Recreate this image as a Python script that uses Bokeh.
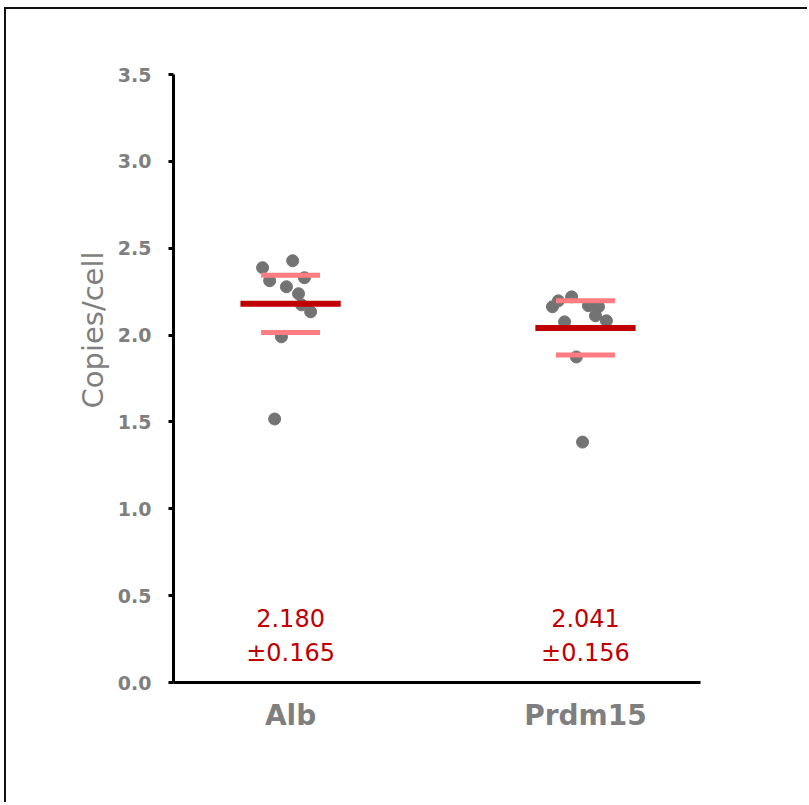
from bokeh.plotting import figure
from bokeh.models import Range1d, FixedTicker, Title
from bokeh.core.properties import value
from bokeh.embed import file_html
from bokeh.resources import INLINE

# ---- data ----
categories = ["Alb", "Prdm15"]
cat_x = [1, 2]
alb_values = [2.388, 2.428, 2.313, 2.330, 2.278, 2.238, 2.174, 2.134, 1.990, 1.517]
alb_jitter = [-0.095, 0.007, -0.071, 0.047, -0.014, 0.027, 0.037, 0.068, -0.031, -0.054]
prdm15_values = [2.163, 2.197, 2.220, 2.169, 2.163, 2.111, 2.082, 2.076, 1.874, 1.384]
prdm15_jitter = [-0.112, -0.092, -0.047, 0.010, 0.044, 0.034, 0.071, -0.071, -0.031, -0.010]
means = [2.180, 2.041]
sds = [0.165, 0.156]
mean_labels = ["2.180", "2.041"]
sd_labels = ["±0.165", "±0.156"]
y_ticks = [0.0, 0.5, 1.0, 1.5, 2.0, 2.5, 3.0, 3.5]
y_tick_labels = ["0.0", "0.5", "1.0", "1.5", "2.0", "2.5", "3.0", "3.5"]
y_title = "Copies/cell"

GRAY = "#7F7F7F"
DARKRED = "#C00000"
PINK = "#FF7C80"

p = figure(width=803, height=795, output_backend="svg", toolbar_location=None,
           x_range=Range1d(0.603, 2.39), y_range=Range1d(0, 3.5),
           min_border_left=167, min_border_right=109, min_border_top=65,
           min_border_bottom=122)
p.styles = {"margin-left": "6px", "margin-top": "9px",
            "box-shadow": "-2px -2px 0px 0px #111111"}
p.xgrid.visible = False
p.ygrid.visible = False
p.outline_line_color = None
p.background_fill_color = "white"
p.border_fill_color = "white"

# y axis
ya = p.yaxis[0]
ya.ticker = FixedTicker(ticks=y_ticks)
ya.major_label_overrides = {t: l for t, l in zip(y_ticks, y_tick_labels)}
ya.axis_line_width = 3
ya.axis_line_color = "black"
ya.major_tick_line_width = 3
ya.major_tick_line_color = "black"
ya.major_tick_in = 0
ya.major_tick_out = 5
ya.minor_tick_line_color = None
ya.major_label_standoff = 17
ya.major_label_text_font = "DejaVu Sans"
ya.major_label_text_font_style = "bold"
ya.major_label_text_font_size = "19px"
ya.major_label_text_color = GRAY

# x axis
xa = p.xaxis[0]
xa.ticker = FixedTicker(ticks=cat_x)
xa.major_label_overrides = {x: c for x, c in zip(cat_x, categories)}
xa.axis_line_width = 3
xa.axis_line_color = "black"
xa.major_tick_line_color = None
xa.major_tick_in = 0
xa.major_tick_out = 0
xa.minor_tick_line_color = None
xa.major_label_standoff = 16
xa.major_label_text_font = "DejaVu Sans"
xa.major_label_text_font_style = "bold"
xa.major_label_text_font_size = "28px"
xa.major_label_text_color = GRAY

# points
px = [cat_x[0] + j for j in alb_jitter] + [cat_x[1] + j for j in prdm15_jitter]
py = alb_values + prdm15_values
p.scatter(x=px, y=py, size=12, fill_color="#737373", line_color="#737373")

# sd lines and mean lines
half_sd = 0.10
half_mean = 0.17
up = [m + s for m, s in zip(means, sds)]
dn = [m - s for m, s in zip(means, sds)]
p.segment(x0=[x - half_sd for x in cat_x], x1=[x + half_sd for x in cat_x], y0=up, y1=up,
          line_color=PINK, line_width=5)
p.segment(x0=[x - half_sd for x in cat_x], x1=[x + half_sd for x in cat_x], y0=dn, y1=dn,
          line_color=PINK, line_width=5)
p.segment(x0=[x - half_mean for x in cat_x], x1=[x + half_mean for x in cat_x], y0=means, y1=means,
          line_color=DARKRED, line_width=6)

# mean / sd text
p.text(x=cat_x, y=[0, 0], text=mean_labels, y_offset=-65, text_align="center",
       text_baseline="middle", text_color=DARKRED, text_font=value("DejaVu Sans"),
       text_font_size="24px")
p.text(x=cat_x, y=[0, 0], text=sd_labels, y_offset=-30, text_align="center",
       text_baseline="middle", text_color=DARKRED, text_font=value("DejaVu Sans"),
       text_font_size="24px")

# y axis title (placed above centre, like the reference)
p.add_layout(Title(text=y_title, align="left", offset=274, text_color=GRAY,
                   text_font="DejaVu Sans", text_font_style="normal",
                   text_font_size="29px", standoff=10), "left")

open("out.html", "w").write(file_html(p, INLINE))
